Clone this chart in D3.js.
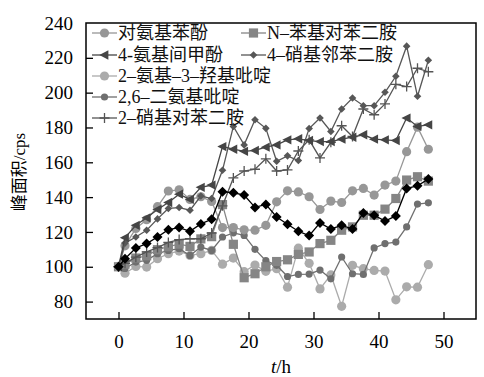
<!DOCTYPE html>
<html><head><meta charset="utf-8">
<script src="https://cdn.jsdelivr.net/npm/d3@7"></script>
<style>
html,body{margin:0;padding:0;background:#fff;}
svg text{font-family:"Liberation Serif","Noto Sans CJK SC",serif;}
</style>
</head><body>
<svg id="chart" width="484" height="377"></svg>
<script>
// ---- data ----
const hours = [0, 1.0, 2.67, 4.33, 6.0, 7.67, 9.33, 11.0, 12.67, 14.33, 16.0, 17.67, 19.33, 21.0, 22.67, 24.33, 26.0, 27.67, 29.33, 31.0, 32.67, 34.33, 36.0, 37.67, 39.33, 41.0, 42.67, 44.33, 46.0, 47.67];
const aminophenol = [100, 112, 122, 127, 134.5, 143.5, 144.2, 138.7, 140.2, 137.5, 122.5, 122.5, 121.2, 121, 123.8, 137.3, 143.6, 143, 140.2, 132.9, 137.7, 136.9, 143.6, 145, 141.2, 146.9, 149.2, 166.1, 180.2, 167.5];
const phenylPPD = [100, 101.5, 105, 106.3, 109.8, 111.5, 113, 111.7, 116, 117.3, 135.7, 112.9, 93.7, 96, 100, 103, 104, 107.1, 108.5, 113.3, 115.2, 121, 122.9, 129.6, 129.6, 133.1, 139.2, 149.8, 151.7, 149.2];
const aminoCresol = [100, 116.7, 123.8, 128.1, 132.9, 136.9, 141.7, 138.7, 145.6, 146.9, 169, 167.5, 166.3, 166.8, 168.7, 170, 172.9, 173.5, 172.5, 171.9, 171.9, 173.3, 174.4, 175.8, 173.3, 172.9, 172.5, 185.4, 180.6, 181.5];
const nitroOPD = [100, 113.6, 117.1, 121, 127.5, 133.5, 134, 132.5, 140.6, 139.2, 155.4, 180.6, 170, 184.4, 179.5, 160.6, 163.7, 161, 179.4, 185.4, 177.7, 190.6, 196.9, 192.5, 192.5, 200.2, 209.4, 226.7, 197.9, 218.6];
const aminoHydroxyPyridine = [100, 96.3, 100.2, 99.8, 104.6, 107.5, 109, 106.5, 107.5, 109.4, 101.5, 105, 97.2, 101, 97.4, 98.9, 88.3, 110.7, 102, 87.3, 95.3, 77.3, 100.8, 98.9, 97.9, 97.5, 81, 88.5, 88.3, 101.2];
const diaminoPyridine = [100, 99, 102.7, 103.7, 107.5, 109.4, 110.4, 106.5, 111.3, 109.4, 117.1, 119.5, 118, 110, 103.5, 100.8, 94.4, 95.6, 95.8, 98.1, 93.1, 105.6, 96, 95.6, 110.8, 113.3, 114.2, 122.9, 136, 136.7];
const nitroPPD = [100, 102, 105.5, 108.5, 111, 114, 115.6, 116.1, 116.1, 119.4, 135, 151, 155, 156, 162, 155, 155.6, 166.5, 172.9, 162.5, 171.5, 181, 174.8, 190.6, 187.3, 193.5, 204.8, 203.5, 214, 212];
const unlabeled = [100, 104.6, 110.8, 113.3, 117.1, 121.3, 122.5, 120.4, 124.6, 127.3, 143.1, 142.5, 141.2, 134.1, 135.8, 128.6, 124.4, 120.4, 117.9, 125.2, 121.7, 123.8, 121.7, 130.9, 129.6, 126.3, 129.2, 145, 146.5, 150.4];

const seriesNames = ["对氨基苯酚", "N–苯基对苯二胺", "4-氨基间甲酚", "4–硝基邻苯二胺", "2–氨基–3–羟基吡啶", "2,6–二氨基吡啶", "2–硝基对苯二胺", ""];
const xTicks = [0, 10, 20, 30, 40, 50];
const yTicks = [80, 100, 120, 140, 160, 180, 200, 220, 240];

// ---- styling ----
const series = [
  {name: seriesNames[0], values: aminophenol, shape: "circle", size: 4.6, color: "#979797", legend: [0,0]},
  {name: seriesNames[1], values: phenylPPD, shape: "square", size: 4.6, color: "#858585", legend: [1,0]},
  {name: seriesNames[2], values: aminoCresol, shape: "triangle", size: 5.2, color: "#454545", legend: [0,1]},
  {name: seriesNames[3], values: nitroOPD, shape: "diamond", size: 3.8, color: "#575757", legend: [1,1]},
  {name: seriesNames[4], values: aminoHydroxyPyridine, shape: "circle", size: 4.6, color: "#ababab", legend: [0,2]},
  {name: seriesNames[5], values: diaminoPyridine, shape: "circle", size: 3.6, color: "#6f6f6f", legend: [0,3]},
  {name: seriesNames[6], values: nitroPPD, shape: "plus", size: 5, color: "#555555", legend: [0,4]},
  {name: seriesNames[7], values: unlabeled, shape: "diamond", size: 5, color: "#000000", legend: null}
];
const drawOrder = [4, 5, 1, 0, 6, 3, 2, 7];

const svg = d3.select("#chart");
const L = 86, R = 476, T = 23, B = 319;
const x = d3.scaleLinear().domain([-5, 55]).range([L, R]);
const y = d3.scaleLinear().domain([70, 240]).range([B, T]);

function markerPath(shape, s) {
  if (shape === "circle") return d3.symbol(d3.symbolCircle, Math.PI * s * s)();
  if (shape === "square") return `M${-s},${-s}H${s}V${s}H${-s}Z`;
  if (shape === "diamond") return `M0,${-s}L${s},0L0,${s}L${-s},0Z`;
  if (shape === "triangle") return `M${-s},0L${s*0.75},${-s*0.9}L${s*0.75},${s*0.9}Z`;
  if (shape === "plus") return `M${-s},0H${s}M0,${-s}V${s}`;
}
function drawMarker(g, sr, cx, cy) {
  const p = g.append("path").attr("d", markerPath(sr.shape, sr.size))
    .attr("transform", `translate(${cx},${cy})`);
  if (sr.shape === "plus") p.attr("fill", "none").attr("stroke", sr.color).attr("stroke-width", 1.3);
  else p.attr("fill", sr.color).attr("stroke", "none");
}

// axes (ticks inward)
const axB = svg.append("g").attr("transform", `translate(0,${B})`)
  .call(d3.axisBottom(x).tickValues(xTicks).tickSizeInner(-7).tickSizeOuter(0).tickPadding(12));
const axL = svg.append("g").attr("transform", `translate(${L},0)`)
  .call(d3.axisLeft(y).tickValues(yTicks).tickSizeInner(-7).tickSizeOuter(0).tickPadding(13));
[axB, axL].forEach(a => {
  a.select(".domain").remove();
  a.selectAll(".tick line").attr("stroke", "#000").attr("stroke-width", 1.3);
  a.selectAll(".tick text").attr("fill", "#000").style("font-size", "19px").style("font-family", "Liberation Serif");
});
axL.selectAll(".tick").filter(d => d === 240).select("line").remove();
axB.selectAll(".tick text").attr("dy", "0.9em");

// lines + markers
const line = d3.line().x((d, i) => x(hours[i])).y(d => y(d));
const plot = svg.append("g");
drawOrder.forEach(k => {
  const sr = series[k];
  const g = plot.append("g");
  g.append("path").datum(sr.values).attr("d", line)
    .attr("fill", "none").attr("stroke", sr.color).attr("stroke-width", 1.3);
  sr.values.forEach((v, i) => drawMarker(g, sr, x(hours[i]), y(v)));
});

// frame
svg.append("rect").attr("x", L).attr("y", T).attr("width", R - L).attr("height", B - T)
  .attr("fill", "none").attr("stroke", "#000").attr("stroke-width", 1.5);

// legend
const lg = svg.append("g");
const colX = [92, 241], rowY = [33, 55, 76, 97, 118];
series.forEach(sr => {
  if (!sr.legend) return;
  const lx = colX[sr.legend[0]], ly = rowY[sr.legend[1]];
  lg.append("line").attr("x1", lx).attr("x2", lx + 25).attr("y1", ly).attr("y2", ly)
    .attr("stroke", sr.color).attr("stroke-width", 1.3);
  drawMarker(lg, sr, lx + 12.5, ly);
  lg.append("text").attr("x", lx + 26).attr("y", ly).attr("dy", "0.35em")
    .style("font-size", "18px").attr("fill", "#111").text(sr.name);
});

// axis titles
const xt = svg.append("text").attr("x", 281).attr("y", 366).attr("dy", "0.35em")
  .attr("text-anchor", "middle").style("font-size", "19px");
xt.append("tspan").style("font-style", "italic").text("t");
xt.append("tspan").text("/h");
svg.append("text").attr("transform", "translate(19,172) rotate(-90)")
  .attr("text-anchor", "middle").attr("dy", "0.35em").style("font-size", "17px").text("峰面积/cps");
</script>
</body></html>
